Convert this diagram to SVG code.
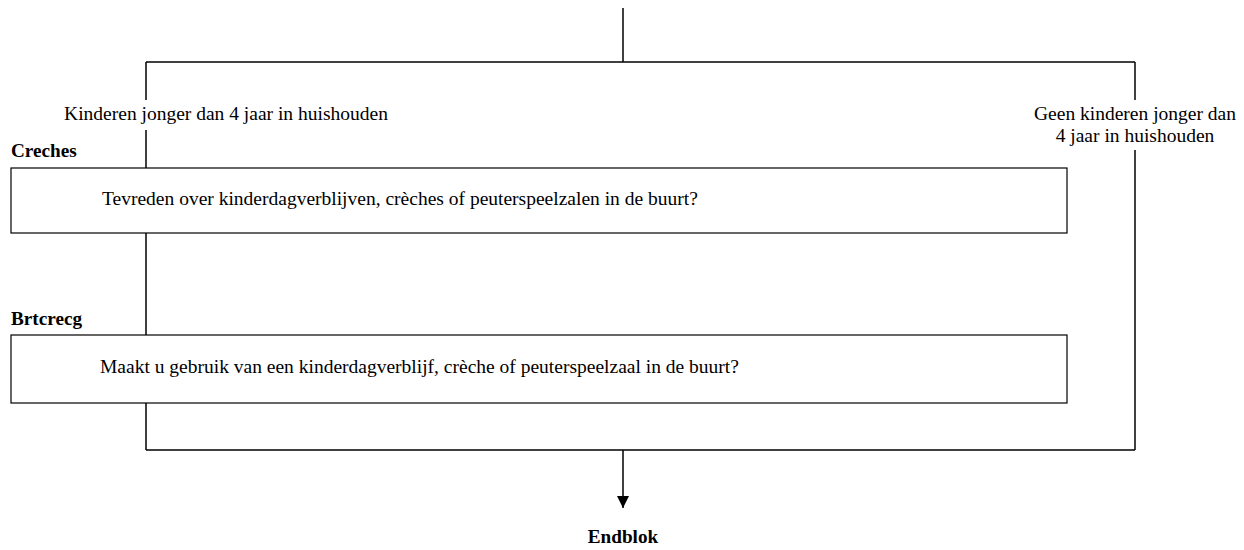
<svg xmlns="http://www.w3.org/2000/svg" width="1244" height="550" viewBox="0 0 1244 550">
<style>
text{font-family:"Liberation Serif","Times New Roman",serif;font-size:19.5px;fill:#000}
.b{font-weight:bold;font-size:19.2px}
.ln{stroke:#000;stroke-width:1.5;fill:none}
.box{fill:#fff;stroke:#000;stroke-width:1.2}
</style>
<defs>
<marker id="ah" viewBox="0 0 10 10" refX="10" refY="5" markerWidth="12" markerHeight="12" markerUnits="userSpaceOnUse" orient="auto">
<path d="M0,0 L10,5 L0,10 z" fill="#000"/>
</marker>
</defs>
<g id="connectors">
<path class="ln" d="M623,8 V62"/>
<path class="ln" d="M146,62 H1135"/>
<path class="ln" d="M146,62 V100"/>
<path class="ln" d="M146,130 V168"/>
<path class="ln" d="M146,233 V335"/>
<path class="ln" d="M146,403 V450"/>
<path class="ln" d="M1135,62 V100"/>
<path class="ln" d="M1135,150 V450"/>
<path class="ln" d="M146,450 H1135"/>
<path class="ln" d="M623,450 V508" marker-end="url(#ah)"/>
<text x="226" y="120" text-anchor="middle">Kinderen jonger dan 4 jaar in huishouden</text>
<text x="1135" y="120" text-anchor="middle">Geen kinderen jonger dan</text>
<text x="1135" y="142" text-anchor="middle">4 jaar in huishouden</text>
</g>
<g id="creches">
<text class="b" x="11" y="157">Creches</text>
<rect class="box" x="11" y="168" width="1056" height="65"/>
<text x="102" y="205">Tevreden over kinderdagverblijven, crèches of peuterspeelzalen in de buurt?</text>
</g>
<g id="brtcrecg">
<text class="b" x="11" y="325">Brtcrecg</text>
<rect class="box" x="11" y="335" width="1056" height="68"/>
<text x="100" y="373">Maakt u gebruik van een kinderdagverblijf, crèche of peuterspeelzaal in de buurt?</text>
</g>
<g id="endblok">
<text class="b" x="623" y="543" text-anchor="middle">Endblok</text>
</g>
</svg>
